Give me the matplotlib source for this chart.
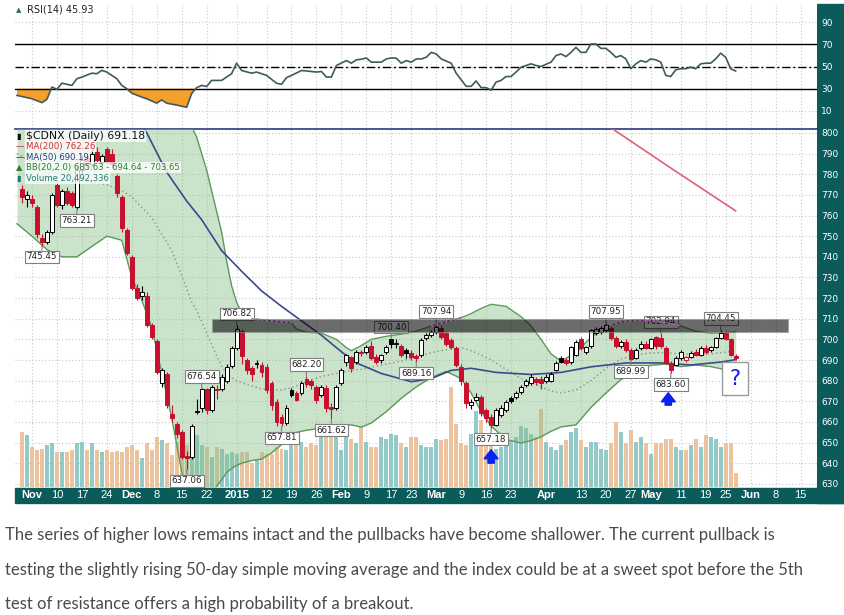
import numpy as np
import matplotlib.pyplot as plt
from matplotlib.patches import Rectangle
from matplotlib.transforms import blended_transform_factory

# trading-day index: 0 = 30 Oct 2014 ... 143 = 27 May 2015
opens = [773, 768, 768, 764, 749, 747, 752, 775, 765, 772, 771, 764, 782, 788, 785, 791, 786, 792, 790, 779,
         769, 753, 740, 725, 721, 721, 707, 699, 679, 683, 664, 659, 655, 643.6, 643, 665, 667, 676, 666, 676,
         676, 680, 687, 696, 704, 690, 686, 688, 687.5, 686.5, 679, 669.5, 662.5, 659.6, 675.5, 674, 674, 681, 680, 677,
         673, 676.5, 667.2, 667, 679, 689, 691.5, 689, 694, 694, 697, 691.5, 690, 694, 700, 698, 697, 695, 693.5, 692,
         692.5, 700.7, 702, 703.6, 705.6, 703, 699.8, 696, 686.7, 679, 668, 670.7, 672, 665.9, 662.5, 658.6, 663.4, 666, 671.7, 672,
         674.6, 678, 679, 681, 681, 680, 680, 685.2, 691, 690, 689, 692.5, 700, 694, 697, 703, 703.6, 704.6, 705.6, 700.7,
         697, 698.8, 695, 691, 696, 698, 696, 701, 700.7, 696, 688.6, 687.6, 691, 690, 691.5, 694, 692.5, 696, 695, 696.4,
         700.7, 703, 700, 692]
highs = [775, 772, 770, 765, 751, 753, 771, 777, 773, 774, 772, 784, 789, 790, 792, 793, 790, 793, 792, 780,
         770, 754, 741, 727, 726, 723, 708, 700, 686, 684, 668, 660, 656, 646, 659, 671, 676.54, 676.3, 678, 678,
         683, 688, 697, 706.82, 705, 691, 687, 690, 689, 688, 680, 671, 664, 668, 676.5, 675, 680, 682.2, 681, 678,
         678, 678, 669, 678, 686, 693, 692, 695, 695, 697.5, 699, 693, 693, 697.5, 700.4, 700, 698, 696, 695, 693,
         700.5, 703, 704.5, 707.94, 707, 704, 700.5, 697, 688, 680, 671, 674, 673, 667, 664, 667, 668, 670.5, 672.5, 675,
         678, 681, 683, 682, 682.5, 683, 684, 689.5, 692, 691, 697, 699.5, 701, 697, 705, 706, 706.5, 707.95, 706.5, 701.5,
         699.5, 700, 696, 696, 699, 699, 700.5, 701.5, 702.94, 697, 689.5, 692, 695, 692, 694.5, 695.5, 697, 697.5, 697, 701,
         704.45, 704, 700.5, 693]
lows = [766, 764, 764, 749, 745.45, 746, 751, 764, 763, 765, 764, 763.21, 780, 783, 784, 786, 784, 785, 783, 769,
        752, 741, 724, 719, 719, 706, 700, 683, 677, 667, 660, 652, 642, 637.06, 642, 664, 665, 664, 665, 671,
        675, 679, 686, 695, 688, 683, 680, 686, 682, 674, 666, 658, 657.81, 658.5, 672, 670, 673, 677, 676, 669,
        672, 665, 661.62, 666, 678, 687, 684, 688, 692, 693, 690, 688, 688.5, 693, 696, 696, 691.5, 691, 690, 689.16,
        691.5, 699.5, 701, 702.5, 700, 697, 695.5, 686.5, 678, 667, 666.5, 670, 663, 660, 657.18, 658, 662.5, 665, 669, 671,
        673.5, 677, 678, 678, 676, 679, 679.5, 684.5, 688.5, 687.5, 688, 692, 695, 693, 696, 702, 702.5, 703.5, 699.5, 696,
        696, 694, 689.99, 690.5, 695, 695.5, 695.5, 695.5, 696, 688, 683.6, 687, 690, 689, 691, 692, 692, 693, 694, 696,
        700, 699.5, 692, 690]
closes = [769, 770, 766, 751, 747, 752, 770, 765, 772, 766, 765, 782, 787, 785, 790, 787, 789, 786, 785, 771,
          754, 742, 725, 720, 723, 707, 701, 684, 685, 668, 662, 654, 643, 642.5, 658, 665.3, 676, 666, 677, 675.5,
          682, 686.5, 696, 705, 692, 685, 683, 688.5, 684, 675.5, 668, 660, 659.5, 667, 673, 670.7, 679, 678.5, 678, 670.7,
          677, 666.8, 666.5, 677, 685, 692.5, 686, 694, 693.5, 696.4, 691, 689, 692.5, 696.4, 697.8, 698.2, 692.5, 693.5, 691.5, 691.2,
          699.8, 702, 703.6, 706, 701.2, 698, 696.4, 687.6, 680, 669, 669.7, 672, 664.4, 662, 658.6, 666, 666.8, 669.7, 670, 674,
          677, 680, 682, 679.5, 679, 682, 683.3, 688.6, 689, 688.6, 696.4, 698.8, 696, 696.3, 704.6, 704.8, 705.6, 707, 700.7, 697,
          698.8, 695, 690.5, 695, 698, 696, 700, 697, 696.8, 688.6, 685.2, 691, 694, 691.5, 693.5, 692.5, 696, 694, 696.4, 700.7,
          703, 700, 692.5, 691.18]
prior_close = 773.5
volume = [81, 76, 59, 54, 56, 61, 64, 52, 52, 52, 54, 64, 66, 54, 64, 54, 52, 54, 52, 53,
          52, 59, 61, 54, 42, 64, 54, 73, 69, 64, 47, 66, 61, 61, 70, 76, 62, 59, 44, 59,
          56, 49, 52, 49, 52, 52, 35, 39, 52, 49, 49, 59, 56, 54, 61, 78, 66, 59, 64, 61,
          78, 73, 73, 78, 54, 78, 71, 64, 88, 66, 59, 59, 73, 71, 78, 76, 64, 59, 73, 73,
          61, 59, 59, 71, 69, 71, 146, 93, 64, 61, 78, 112, 98, 78, 73, 56, 59, 61, 69, 73,
          90, 86, 78, 73, 115, 66, 59, 54, 61, 69, 81, 86, 69, 59, 66, 66, 56, 54, 64, 95,
          81, 64, 83, 66, 73, 64, 49, 64, 64, 71, 71, 59, 54, 54, 61, 71, 59, 76, 73, 71,
          59, 64, 64, 20.492336]  # millions of shares

# Bollinger bands (20, 2.0)
bb_days = [-1, 2, 5, 8, 11, 14, 17, 20, 22, 24, 26, 28, 30, 32, 34, 35, 37, 39, 40, 41, 42, 43, 44, 46, 48, 50,
           52, 54, 55, 57, 60, 63, 65, 66, 68, 70, 73, 76, 79, 82, 85, 88, 90, 92, 94, 97, 100, 102, 104, 106,
           108, 111, 114, 117, 120, 123, 126, 129, 132, 135, 138, 141, 143]
bb_upper = [824, 822, 821, 820, 816, 815, 815, 816, 818, 820, 822, 822, 820, 814, 803, 798, 782, 762, 752, 738,
            726, 718, 713, 710, 709.5, 709, 708.5, 708, 705, 703.5, 703, 700, 696, 694.5, 697, 700, 701.5, 702.5,
            704, 706.5, 708.5, 710.5, 712.5, 715, 717, 716, 711, 706.5, 700, 693, 689.5, 693.5, 701, 706, 708.5,
            709.4, 709.2, 708, 706.5, 704, 703, 703.2, 703.65]
bb_lower = [756, 750, 743.5, 740, 740, 745, 750, 748, 730, 719, 706, 684, 662, 636, 619, 614, 615, 629, 632,
            635.5, 637.5, 639, 640, 641.3, 642, 645, 649, 654, 655, 656, 657, 657.8, 658.4, 658.6, 657.5, 659.5,
            665, 671.5, 677, 681.5, 684.5, 681, 674, 665, 658, 651.5, 649.8, 651, 652.8, 655.5, 657.6, 658.6, 667,
            674, 680.5, 684.5, 687.5, 688, 686.8, 687.6, 686.8, 685.3, 685.63]
bb_mid = [790, 786, 782, 780, 778, 776, 775, 772, 769, 764, 759, 751, 743, 731, 718, 714, 703, 692, 687, 683.5,
          681.5, 680, 679, 677.5, 676, 675.5, 675.5, 676.5, 677.5, 679.5, 682, 683.5, 684.5, 685, 685.5, 686.5,
          688, 689.5, 691.5, 693.5, 695, 696, 694.5, 692.5, 690, 685.5, 681, 679, 677, 675, 674, 675.5, 680, 686,
          690.5, 692.5, 693.5, 693.5, 693, 692.5, 693, 693.8, 694.64]

ma50_days = [22, 25, 29, 33, 36, 40, 44, 48, 52, 56, 60, 64, 67, 72, 78, 82, 86, 90, 95, 102, 108, 114, 121, 128,
             134, 140, 143]
ma50_vals = [812, 800, 781, 767, 758, 743, 733, 723.5, 716, 709, 702, 694, 688.6, 683.5, 679.5, 681, 685, 686,
             684, 683, 684, 686.7, 688.6, 688.6, 687.6, 689, 690.19]
ma200_days = [118, 130, 143]
ma200_vals = [802.5, 783.0, 762.26]

rsi_days = [-1, 2, 4, 5, 6, 7, 8, 10, 11, 12, 14, 15, 16, 17, 19, 20, 21, 22, 24, 25, 27, 28, 29, 31, 33, 34, 35,
            36, 37, 38, 40, 42, 43, 44, 46, 47, 49, 51, 52, 53, 54, 56, 57, 59, 60, 61, 62, 63, 65, 66, 67, 68, 69,
            70, 72, 73, 74, 75, 76, 77, 78, 79, 80, 81, 82, 83, 84, 86, 87, 88, 89, 90, 91, 92, 93, 94, 95, 96, 97,
            98, 99, 100, 101, 102, 103, 104, 105, 106, 107, 108, 109, 110, 111, 112, 113, 114, 115, 116, 117, 118,
            119, 120, 121, 122, 123, 124, 125, 126, 127, 128, 129, 130, 131, 132, 133, 134, 135, 136, 137, 138, 139,
            140, 141, 142, 143]
rsi_vals = [24, 21, 17.5, 20.5, 31.5, 29.5, 35, 33, 39, 40.5, 44, 43.5, 46.5, 45, 39, 33, 30, 26, 22.5, 21, 17,
            20, 17, 15.3, 13.3, 25.7, 31, 33, 32, 37.5, 37.5, 43.5, 53, 46.4, 44, 45, 42, 35, 34, 40, 42, 46.4, 46,
            45, 45.5, 40.5, 40.5, 50.9, 55.3, 53, 56, 56.5, 57.7, 53.9, 53.9, 56.8, 57.7, 57.5, 53, 55.3, 53.9, 56.8,
            56.8, 58.3, 62.7, 61.3, 56.8, 53, 44, 38, 32.2, 32.2, 37, 31, 31, 28.7, 36, 37.5, 41, 41, 45, 49.4, 50.9,
            52.4, 50.9, 50, 52, 53.9, 59.8, 61.3, 58.9, 62.7, 67.2, 62.7, 62.7, 70.2, 70.2, 66.3, 66.3, 62.7, 58.3,
            59.8, 56.8, 48, 52.4, 55.3, 53.9, 56.8, 56, 53.9, 42, 41, 47, 48, 48, 49.4, 48, 52.4, 53, 53, 56.8, 62,
            58.3, 48, 45.93]

# axis ticks (trading-day index, label)
tick_days = [2, 7, 12, 17, 22, 27, 32, 37, 43, 49, 54, 59, 64, 69, 74, 78, 83, 88, 93, 98, 105, 112, 117, 122,
             126, 132, 137, 141, 146, 151, 156]
tick_labels = ['Nov', '10', '17', '24', 'Dec', '8', '15', '22', '2015', '12', '19', '26', 'Feb', '9', '17', '23',
               'Mar', '9', '16', '23', 'Apr', '13', '20', '27', 'May', '11', '19', '25', 'Jun', '8', '15']
month_labels = ['Nov', 'Dec', '2015', 'Feb', 'Mar', 'Apr', 'May', 'Jun']

# swing labels: (day, 'hi' or 'lo')
swing_points = [(4, 'lo'), (11, 'lo'), (33, 'lo'), (36, 'hi'), (43, 'hi'), (52, 'lo'), (57, 'hi'), (62, 'lo'),
                (74, 'hi'), (79, 'lo'), (83, 'hi'), (94, 'lo'), (117, 'hi'), (122, 'lo'), (128, 'hi'),
                (130, 'lo'), (140, 'hi')]
resist_lo, resist_hi = 703.5, 710.0
resist_days = (38.0, 153.5)
arrows = [(94, 638.7, 647.9), (129.5, 666.8, 675.5)]
qbox = (140.3, 673, 5.2, 16)

caption = ["The series of higher lows remains intact and the pullbacks have become shallower. The current pullback is",
           "testing the slightly rising 50-day simple moving average and the index could be at a sweet spot before the 5th",
           "test of resistance offers a high probability of a breakout."]

# ---------------------------------------------------------------
W, H = 845, 615
RED = '#c8102e'
TEAL = '#0b5b5b'

def fx(px):
    return px / W

def fy(py):
    return 1 - py / H

plt.rcParams['font.family'] = 'DejaVu Sans'
fig = plt.figure(figsize=(W / 100, H / 100), dpi=100)

# teal axis strips
fig.patches.append(Rectangle((fx(817), fy(503)), fx(28), (503 - 4) / H, transform=fig.transFigure,
                             color=TEAL, zorder=-1))
fig.patches.append(Rectangle((fx(15), fy(503)), fx(830), 15 / H, transform=fig.transFigure,
                             color=TEAL, zorder=-1))

ax_rsi = fig.add_axes([fx(15), fy(128), fx(802), 124 / H])
ax = fig.add_axes([fx(15), fy(487), fx(802), 358 / H])
xlim = (-1.4, 159.3)

o = np.array(opens, float)
hi = np.array(highs, float)
lo = np.array(lows, float)
c = np.array(closes, float)
days = np.arange(len(c))
prev = np.r_[prior_close, c[:-1]]
up = c >= prev
col = np.where(up, 'black', RED)

# volume
trans = blended_transform_factory(ax.transData, ax.transAxes)
vcol = np.where(up, '#93c9c7', '#ebc39f')
ax.bar(days, np.array(volume) / 525.0, bottom=0, width=0.8, color=vcol, transform=trans, zorder=2)

# bollinger bands
ax.fill_between(bb_days, bb_lower, bb_upper, color='#8cc08c', alpha=0.45, lw=0, zorder=3)
ax.plot(bb_days, bb_upper, color='#5a9c5a', lw=1.0, zorder=3.5)
ax.plot(bb_days, bb_lower, color='#5a9c5a', lw=1.0, zorder=3.5)
ax.plot(bb_days, bb_mid, color='#7c9a7c', lw=1.0, ls=(0, (1, 2)), zorder=3.5)
up_arr = np.array(bb_upper)
in_zone = (up_arr > resist_lo + 2) & (up_arr < resist_hi + 1) & (np.array(bb_days) > resist_days[0])
ax.plot(bb_days, np.ma.masked_where(~in_zone, up_arr), color='#c050c8', lw=1.4, ls=(0, (1, 1.5)), zorder=8.5)

# moving averages
ax.plot(ma50_days, ma50_vals, color='#3a4a8c', lw=1.2, zorder=4)
ax.plot(ma200_days, ma200_vals, color='#e0607a', lw=1.2, zorder=4)

# candles
ax.vlines(days, lo, hi, colors=col, lw=0.8, zorder=5)
body_lo = np.minimum(o, c)
body_h = np.maximum(np.abs(c - o), 0.4)
face = np.where(c < o, col, 'white')
ax.bar(days, body_h, bottom=body_lo, width=0.78, color=face, edgecolor=col, linewidth=0.7, zorder=6)

# swing labels
for d, kind in swing_points:
    v = hi[d] if kind == 'hi' else lo[d]
    ax.annotate(f'{v:.2f}', xy=(d, v), xytext=(0, 5 if kind == 'hi' else -5), textcoords='offset points',
                ha='center', va='bottom' if kind == 'hi' else 'top', fontsize=6.3, color='#222222',
                bbox=dict(boxstyle='square,pad=0.2', fc='white', ec='#808080', lw=0.8),
                arrowprops=dict(arrowstyle='-', color='#808080', lw=0.8, shrinkA=0, shrinkB=0), zorder=7)

# resistance zone
ax.add_patch(Rectangle((resist_days[0], resist_lo), resist_days[1] - resist_days[0], resist_hi - resist_lo,
                       fc='black', ec='#9a9a9a', lw=0.8, alpha=0.58, zorder=8))

# arrows and question box
for d, y0, y1 in arrows:
    ax.annotate('', xy=(d, y1), xytext=(d, y0),
                arrowprops=dict(arrowstyle='simple,head_length=0.65,head_width=1.0,tail_width=0.45',
                                fc='#0a22f0', ec='#0a22f0'), zorder=9)
ax.add_patch(Rectangle((qbox[0], qbox[1]), qbox[2], qbox[3], fc='white', ec='#9a9a9a', lw=1, zorder=9))
ax.text(qbox[0] + qbox[2] / 2, qbox[1] + qbox[3] / 2, '?', color='#1a1aee', fontsize=15,
        ha='center', va='center', zorder=10)

ax.set_xlim(*xlim)
ax.set_ylim(628.5, 801.9)
ax.set_yticks(np.arange(630, 801, 10))
ax.yaxis.tick_right()
ax.tick_params(axis='y', length=0, pad=3, labelsize=6.5, labelcolor='white')
ax.set_xticks(tick_days)
ax.set_xticklabels(tick_labels, fontfamily='Liberation Sans', fontsize=8, color='white')
for t in ax.get_xticklabels():
    if t.get_text() in month_labels:
        t.set_fontweight('bold')
ax.tick_params(axis='x', length=0, pad=2.5)
ax.grid(True, color='#c8c8c8', ls=(0, (1, 2)), lw=0.8)
ax.set_axisbelow(True)
for s in ax.spines.values():
    s.set_visible(False)
ax.spines['top'].set_visible(True)
ax.spines['top'].set_color('#2a3a7a')
ax.spines['top'].set_linewidth(1.2)

# RSI panel
ax_rsi.plot(rsi_days, rsi_vals, color='#3f5b5b', lw=1.2, zorder=4)
ax_rsi.fill_between(rsi_days, rsi_vals, 30, where=np.array(rsi_vals) < 30, interpolate=True,
                    color='#f5a02c', lw=0, zorder=3)
ax_rsi.axhline(70, color='black', lw=1.0, zorder=3)
ax_rsi.axhline(30, color='black', lw=1.0, zorder=3)
ax_rsi.axhline(50, color='black', lw=1.0, ls=(0, (6, 2, 1.5, 2)), zorder=3)
ax_rsi.set_xlim(*xlim)
ax_rsi.set_ylim(-5.3, 106.2)
ax_rsi.set_yticks([10, 30, 50, 70, 90])
ax_rsi.yaxis.tick_right()
ax_rsi.tick_params(axis='y', length=0, pad=3, labelsize=6.5, labelcolor='white')
ax_rsi.set_xticks(tick_days)
ax_rsi.tick_params(axis='x', length=0, labelbottom=False)
ax_rsi.grid(True, color='#c8c8c8', ls=(0, (1, 2)), lw=0.8)
ax_rsi.set_axisbelow(True)
for s in ax_rsi.spines.values():
    s.set_visible(False)

# legends
fig.text(fx(27), fy(10), f'RSI(14) {rsi_vals[-1]:.2f}', fontsize=7, va='center', color='#222222')
fig.text(fx(16), fy(10), '\u25b2', fontsize=5, va='center', color='#2a6a6a')
bg = dict(boxstyle='square,pad=0.1', fc='white', ec='none', alpha=0.75)
legend_rows = [
    (f'$CDNX (Daily) {c[-1]:.2f}', '#111111', '\u25ae', 7.8),
    (f'MA(200) {ma200_vals[-1]:.2f}', '#d42a3a', '\u2014', 6.2),
    (f'MA(50) {ma50_vals[-1]:.2f}', '#2a3a8a', '\u2014', 6.1),
    (f'BB(20,2.0) {bb_lower[-1]:.2f} - {bb_mid[-1]:.2f} - {bb_upper[-1]:.2f}', '#2f7f2f', '\u25b2', 6.1),
    (f'Volume {volume[-1] * 1e6:,.0f}', '#1f7a7a', '\u25ae', 6.1),
]
for i, (txt, tc, icon, fs) in enumerate(legend_rows):
    yy = fy(136 + i * 10.6)
    fig.text(fx(26), yy, txt, fontsize=fs, va='center', color=tc, bbox=bg, zorder=20)
    fig.text(fx(16), yy, icon, fontsize=6, va='center', color=tc, zorder=20)

for i, line in enumerate(caption):
    fig.text(fx(5), fy(535 + i * 34.5), line, fontsize=12.0, family='Lato', va='center', color='#4a4a4a')

fig.savefig('out.png', dpi=100)
